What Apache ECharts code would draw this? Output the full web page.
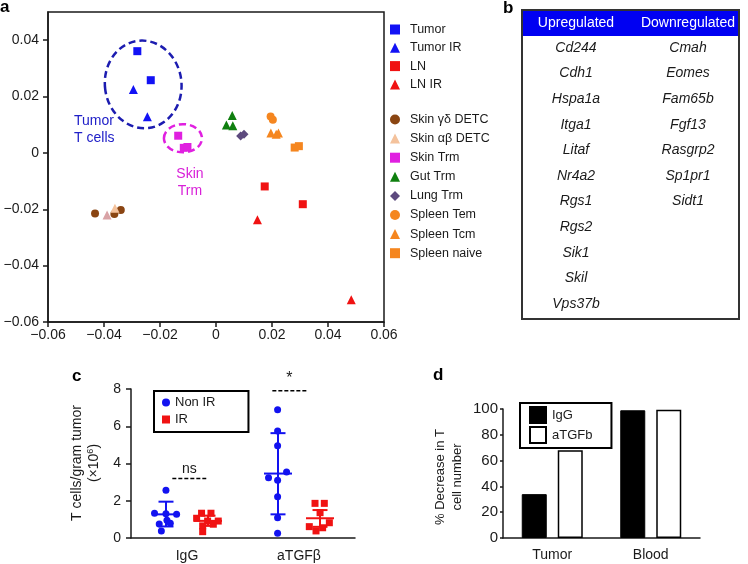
<!DOCTYPE html>
<html><head><meta charset="utf-8">
<script src="https://cdn.jsdelivr.net/npm/echarts@6/dist/echarts.min.js"></script>
<style>html,body{margin:0;padding:0;background:#fff}#c{width:748px;height:564px}</style>
</head><body><div id="c"></div><script>
// ---------- Panel a: PCA ----------
const pcaXTicks = [-0.06, -0.04, -0.02, 0, 0.02, 0.04, 0.06];
const pcaYTicks = [-0.06, -0.04, -0.02, 0, 0.02, 0.04];
const pcaTumor = [[-0.0281, 0.0361], [-0.0233, 0.0258]];
const pcaTumorIR = [[-0.0295, 0.0225], [-0.0245, 0.0128]];
const pcaLN = [[0.0174, -0.0119], [0.0310, -0.0182]];
const pcaLNIR = [[0.0148, -0.0237], [0.0483, -0.0521]];
const pcaSkinGD = [[-0.0432, -0.0215], [-0.0363, -0.0217], [-0.0340, -0.0203]];
const pcaSkinAB = [[-0.0389, -0.0220], [-0.0361, -0.0196]];
const pcaSkinTrm = [[-0.0135, 0.0061], [-0.0115, 0.0018], [-0.0102, 0.0021]];
const pcaGutTrm = [[0.0058, 0.0133], [0.0037, 0.0099], [0.0060, 0.0096]];
const pcaLungTrm = [[0.0088, 0.0060], [0.0100, 0.0066]];
const pcaSpleenTem = [[0.0195, 0.0129], [0.0203, 0.0118]];
const pcaSpleenTcm = [[0.0196, 0.0071], [0.0215, 0.0066], [0.0223, 0.0071]];
const pcaSpleenNaive = [[0.0281, 0.0019], [0.0296, 0.0024]];
const pcaLegend1 = ['Tumor', 'Tumor IR', 'LN', 'LN IR'];
const pcaLegend2 = ['Skin γδ DETC', 'Skin αβ DETC', 'Skin Trm', 'Gut Trm', 'Lung Trm', 'Spleen Tem', 'Spleen Tcm', 'Spleen naive'];
const pcaEllipses = [
  {cx: -0.0260, cy: 0.0243, rx: 0.01368, ry: 0.01558, rot: 0.12, color: '#1c1cb0'},
  {cx: -0.0118, cy: 0.0052, rx: 0.0068, ry: 0.0050, rot: 0, color: '#e020e0'}
];
const pcaLabels = [
  {x: -0.0507, y: 0.0083, text: 'Tumor\nT cells', color: '#2020c8', align: 'left'},
  {x: -0.0093, y: -0.0106, text: 'Skin\nTrm', color: '#d81fd8', align: 'center'}
];

// ---------- Panel b: gene table ----------
const tableHeaders = ['Upregulated', 'Downregulated'];
const upGenes = ['Cd244', 'Cdh1', 'Hspa1a', 'Itga1', 'Litaf', 'Nr4a2', 'Rgs1', 'Rgs2', 'Sik1', 'Skil', 'Vps37b'];
const downGenes = ['Cmah', 'Eomes', 'Fam65b', 'Fgf13', 'Rasgrp2', 'Sp1pr1', 'Sidt1'];

// ---------- Panel c: dot plot ----------
const cCategories = ['IgG', 'aTGFβ'];
const cYTicks = [0, 2, 4, 6, 8];
const cNonIR = [[-0.188, 2.56], [-0.290, 1.33], [-0.188, 1.30], [-0.093, 1.27], [-0.179, 0.95], [-0.149, 0.79], [-0.248, 0.75], [-0.229, 0.38],
  [0.809, 6.88], [0.809, 5.74], [0.809, 4.95], [0.889, 3.55], [0.728, 3.24], [0.809, 3.10], [0.809, 2.22], [0.809, 1.09], [0.809, 0.25]];
const cIR = [[0.130, 1.33], [0.214, 1.33], [0.086, 1.06], [0.184, 0.91], [0.279, 0.91], [0.235, 0.74], [0.140, 0.65], [0.140, 0.34],
  [1.143, 1.86], [1.226, 1.86], [1.188, 1.36], [1.271, 0.82], [1.092, 0.61], [1.211, 0.55], [1.152, 0.38]];
const cErrX = [-0.1875, 0.1875, 0.8125, 1.1875];
const cErrGroup = ['Non IR', 'IR', 'Non IR', 'IR'];
const cErrMean = [1.27, 0.92, 3.46, 1.06];
const cErrLow = [0.62, 0.65, 1.27, 0.60];
const cErrHigh = [1.95, 1.20, 5.63, 1.50];
const cSig = [
  {x1: -0.131, x2: 0.172, y: 3.2, text: 'ns'},
  {x1: 0.762, x2: 1.066, y: 7.9, text: '*'}
];

// ---------- Panel d: bars ----------
const dCategories = ['Tumor', 'Blood'];
const dYTicks = [0, 20, 40, 60, 80, 100];
const dIgG = [34, 99];
const dATGFb = [68, 99.5];

// ---------- styling ----------
const FONT = '"Liberation Sans", Arial, Helvetica, sans-serif';
const INK = '#1a1a1a';
const BLUE = '#1212f0', RED = '#f01212';
const minus = v => (Math.abs(v) < 1e-12 ? '0' : String(+v.toFixed(4)).replace('-', '\u2212'));
const groupColor = {'Non IR': BLUE, 'IR': RED};

const lineStyle = {color: INK, width: 1.5};
function valAxisCommon(extra) {
  return Object.assign({
    axisLine: {show: true, onZero: false, lineStyle},
    axisTick: {show: true, length: 5, lineStyle},
    splitLine: {show: false},
    axisLabel: {fontSize: 14, color: INK, fontFamily: FONT}
  }, extra);
}

function pcaSeries(name, data, symbol, color, size, extra) {
  return Object.assign({
    name, type: 'scatter', xAxisIndex: 0, yAxisIndex: 0, data, symbol, symbolSize: size || 8,
    itemStyle: {color, opacity: 1}, emphasis: {disabled: true}
  }, extra || {});
}

const chart = echarts.init(document.getElementById('c'), null, {renderer: 'canvas'});

const graphics = [];
// table b
graphics.push({type: 'rect', shape: {x: 522, y: 10, width: 217, height: 309}, style: {fill: '#fff', stroke: '#333', lineWidth: 2}, z: 1});
graphics.push({type: 'rect', shape: {x: 523, y: 11, width: 215, height: 25}, style: {fill: '#0000f2'}, z: 2});
const colX = [576, 688];
tableHeaders.forEach((h, i) => graphics.push({type: 'text', x: colX[i], y: 23.5, z: 3,
  style: {text: h, fill: '#fff', fontSize: 14, fontFamily: FONT, textAlign: 'center', textVerticalAlign: 'middle'}}));
[upGenes, downGenes].forEach((list, c) => list.forEach((g, r) => graphics.push({type: 'text', x: colX[c], y: 48 + r * 25.6, z: 3,
  style: {text: g, fill: INK, fontSize: 14, fontStyle: 'italic', fontFamily: FONT, textAlign: 'center', textVerticalAlign: 'middle'}})));
// panel letters
[['a', 0, 7], ['b', 503, 8], ['c', 72, 376], ['d', 433, 375]].forEach(([t, x, y]) => graphics.push({type: 'text', x, y, z: 3,
  style: {text: t, fill: '#000', fontSize: 17, fontWeight: 'bold', fontFamily: FONT, textVerticalAlign: 'middle'}}));
// axis titles
graphics.push({type: 'text', x: 77, y: 463, rotation: Math.PI / 2, z: 3,
  style: {text: 'T cells/gram tumor', fill: INK, fontSize: 14, fontFamily: FONT, textAlign: 'center', textVerticalAlign: 'middle'}});
graphics.push({type: 'text', x: 94, y: 463, rotation: Math.PI / 2, z: 3,
  style: {text: '(×10{s|6})', fill: INK, fontSize: 14, fontFamily: FONT, textAlign: 'center', textVerticalAlign: 'middle',
    rich: {s: {fontSize: 9, fontFamily: FONT, fill: INK, verticalAlign: 'top', padding: [0, 0, 6, 0]}}}});
graphics.push({type: 'text', x: 449, y: 477, rotation: Math.PI / 2, z: 3,
  style: {text: '% Decrease in T\ncell number', fill: INK, fontSize: 13, lineHeight: 17, fontFamily: FONT, textAlign: 'center', textVerticalAlign: 'middle'}});

const catAxisLine = {show: true, onZero: false, lineStyle};
const option = {
  animation: false,
  backgroundColor: '#fff',
  textStyle: {fontFamily: FONT},
  grid: [
    {left: 48, top: 12, width: 336, height: 310, show: true, borderColor: INK, borderWidth: 1.5, backgroundColor: 'transparent'},
    {left: 131, top: 389, width: 224, height: 149},
    {left: 503, top: 409, width: 197, height: 129}
  ],
  xAxis: [
    valAxisCommon({gridIndex: 0, type: 'value', min: -0.06, max: 0.06, interval: 0.02,
      axisTick: {show: true, length: 5, lineStyle, customValues: pcaXTicks},
      axisLabel: {fontSize: 14, color: INK, fontFamily: FONT, margin: 6, formatter: minus, customValues: pcaXTicks}}),
    {gridIndex: 1, type: 'category', data: cCategories, boundaryGap: true,
      axisLine: catAxisLine, axisTick: {alignWithLabel: true, length: 5, lineStyle},
      axisLabel: {fontSize: 14, color: INK, fontFamily: FONT, margin: 11}},
    {gridIndex: 1, type: 'value', min: -0.5, max: 1.5, show: false, axisLine: {onZero: false}},
    {gridIndex: 2, type: 'category', data: dCategories, boundaryGap: true,
      axisLine: catAxisLine, axisTick: {alignWithLabel: true, length: 4, lineStyle},
      axisLabel: {fontSize: 14, color: INK, fontFamily: FONT, margin: 10}}
  ],
  yAxis: [
    valAxisCommon({gridIndex: 0, type: 'value', min: -0.06, max: 0.05, interval: 0.02,
      axisTick: {show: true, length: 5, lineStyle, customValues: pcaYTicks},
      axisLabel: {fontSize: 14, color: INK, fontFamily: FONT, margin: 9, formatter: minus, customValues: pcaYTicks}}),
    valAxisCommon({gridIndex: 1, type: 'value', min: 0, max: 8, interval: 2,
      axisTick: {show: true, length: 5, lineStyle, customValues: cYTicks},
      axisLabel: {fontSize: 14, color: INK, fontFamily: FONT, margin: 10, customValues: cYTicks}}),
    valAxisCommon({gridIndex: 2, type: 'value', min: 0, max: 100, interval: 20,
      axisTick: {show: true, length: 3, lineStyle, customValues: dYTicks},
      axisLabel: {fontSize: 15, color: INK, fontFamily: FONT, margin: 5, customValues: dYTicks}})
  ],
  legend: [
    {data: pcaLegend1, orient: 'vertical', left: 390, top: 23, itemWidth: 10, itemHeight: 10, itemGap: 5.3, padding: 0, selectedMode: false,
      textStyle: {fontSize: 12.5, color: INK, fontFamily: FONT, lineHeight: 12, padding: [0, 0, 0, 5]}},
    {data: pcaLegend2, orient: 'vertical', left: 390, top: 113, itemWidth: 10, itemHeight: 10, itemGap: 6.1, padding: 0, selectedMode: false,
      textStyle: {fontSize: 12.5, color: INK, fontFamily: FONT, lineHeight: 12, padding: [0, 0, 0, 5]}},
    {data: ['Non IR', 'IR'], orient: 'vertical', left: 154, top: 391, itemWidth: 8, itemHeight: 8, itemGap: 4, padding: [5, 33, 6, 8],
      borderColor: '#000', borderWidth: 2, selectedMode: false,
      textStyle: {fontSize: 13, color: INK, fontFamily: FONT, lineHeight: 13}},
    {data: ['IgG', 'aTGFb'], orient: 'vertical', left: 520, top: 403, icon: 'rect', itemWidth: 16, itemHeight: 16, itemGap: 2, padding: [3, 19, 4, 9],
      borderColor: '#000', borderWidth: 2, selectedMode: false,
      textStyle: {fontSize: 13, color: INK, fontFamily: FONT, padding: [0, 0, 0, 1]}}
  ],
  graphic: graphics,
  series: [
    // panel a annotations
    {type: 'custom', xAxisIndex: 0, yAxisIndex: 0, silent: true, clip: false, z: 1,
      data: pcaEllipses.map(e => [e.cx, e.cy]),
      renderItem: (params, api) => {
        const e = pcaEllipses[params.dataIndex];
        const c = api.coord([e.cx, e.cy]);
        const s = api.size([e.rx, e.ry]);
        return {type: 'ellipse', x: c[0], y: c[1], rotation: e.rot, shape: {cx: 0, cy: 0, rx: s[0], ry: s[1]},
          style: {fill: 'none', stroke: e.color, lineWidth: 2.5, lineDash: [7, 4]}};
      }},
    {type: 'custom', xAxisIndex: 0, yAxisIndex: 0, silent: true, clip: false, z: 1,
      data: pcaLabels.map(l => [l.x, l.y]),
      renderItem: (params, api) => {
        const l = pcaLabels[params.dataIndex];
        const c = api.coord([l.x, l.y]);
        return {type: 'text', x: c[0], y: c[1], style: {text: l.text, fill: l.color, fontSize: 14, lineHeight: 17.5,
          fontFamily: FONT, textAlign: l.align, textVerticalAlign: 'middle'}};
      }},
    pcaSeries('Tumor', pcaTumor, 'rect', '#1212f5', 8),
    pcaSeries('Tumor IR', pcaTumorIR, 'triangle', '#1212f5', 9),
    pcaSeries('LN', pcaLN, 'rect', '#f01212', 8),
    pcaSeries('LN IR', pcaLNIR, 'triangle', '#f01212', 9),
    pcaSeries('Skin γδ DETC', pcaSkinGD, 'circle', '#8a4512', 8),
    pcaSeries('Skin αβ DETC', pcaSkinAB.map((p, i) => i === 0 ? {value: p, itemStyle: {color: '#d9a3a6'}} : p), 'triangle', '#f4c29c', 9),
    pcaSeries('Skin Trm', pcaSkinTrm, 'rect', '#e020e0', 8),
    pcaSeries('Gut Trm', pcaGutTrm, 'triangle', '#0f7f0f', 9),
    pcaSeries('Lung Trm', pcaLungTrm, 'diamond', '#5d4a7e', 9),
    pcaSeries('Spleen Tem', pcaSpleenTem, 'circle', '#f5861f', 8),
    pcaSeries('Spleen Tcm', pcaSpleenTcm, 'triangle', '#f5861f', 9),
    pcaSeries('Spleen naive', pcaSpleenNaive, 'rect', '#f5861f', 8),
    // panel c error bars
    {type: 'custom', xAxisIndex: 2, yAxisIndex: 1, silent: true, clip: false, z: 2,
      data: cErrX.map((x, i) => [x, cErrMean[i]]),
      renderItem: (params, api) => {
        const i = params.dataIndex;
        const x = cErrX[i];
        const m = api.coord([x, cErrMean[i]]), hi = api.coord([x, cErrHigh[i]]), lo = api.coord([x, cErrLow[i]]);
        const st = {stroke: groupColor[cErrGroup[i]], lineWidth: 2};
        return {type: 'group', children: [
          {type: 'line', shape: {x1: hi[0], y1: hi[1], x2: lo[0], y2: lo[1]}, style: st},
          {type: 'line', shape: {x1: m[0] - 14, y1: m[1], x2: m[0] + 14, y2: m[1]}, style: st},
          {type: 'line', shape: {x1: hi[0] - 7.5, y1: hi[1], x2: hi[0] + 7.5, y2: hi[1]}, style: st},
          {type: 'line', shape: {x1: lo[0] - 7.5, y1: lo[1], x2: lo[0] + 7.5, y2: lo[1]}, style: st}
        ]};
      }},
    {name: 'Non IR', type: 'scatter', xAxisIndex: 2, yAxisIndex: 1, data: cNonIR, symbol: 'circle', symbolSize: 7,
      itemStyle: {color: BLUE, opacity: 1}, z: 3, emphasis: {disabled: true}},
    {name: 'IR', type: 'scatter', xAxisIndex: 2, yAxisIndex: 1, data: cIR, symbol: 'rect', symbolSize: 7,
      itemStyle: {color: RED, opacity: 1}, z: 3, emphasis: {disabled: true}},
    // significance marks
    {type: 'custom', xAxisIndex: 2, yAxisIndex: 1, silent: true, clip: false, z: 3,
      data: cSig.map(s => [s.x1, s.y]),
      renderItem: (params, api) => {
        const s = cSig[params.dataIndex];
        const a = api.coord([s.x1, s.y]), b = api.coord([s.x2, s.y]);
        return {type: 'group', children: [
          {type: 'line', shape: {x1: a[0], y1: a[1], x2: b[0], y2: b[1]}, style: {stroke: '#000', lineWidth: 1.5, lineDash: [4, 2]}},
          {type: 'text', x: (a[0] + b[0]) / 2, y: a[1] - (s.text === '*' ? 4 : 2), style: {text: s.text, fill: INK,
            fontSize: s.text === '*' ? 16 : 14, fontFamily: FONT, textAlign: 'center', textVerticalAlign: 'bottom'}}
        ]};
      }},
    // panel d bars
    {name: 'IgG', type: 'bar', xAxisIndex: 3, yAxisIndex: 2, data: dIgG, barWidth: 25, barGap: '44%',
      itemStyle: {color: '#000', borderColor: '#000', borderWidth: 1}, emphasis: {disabled: true}},
    {name: 'aTGFb', type: 'bar', xAxisIndex: 3, yAxisIndex: 2, data: dATGFb, barWidth: 25, barGap: '44%',
      itemStyle: {color: '#fff', borderColor: '#000', borderWidth: 1.5}, emphasis: {disabled: true}}
  ]
};
chart.setOption(option);
</script></body></html>
